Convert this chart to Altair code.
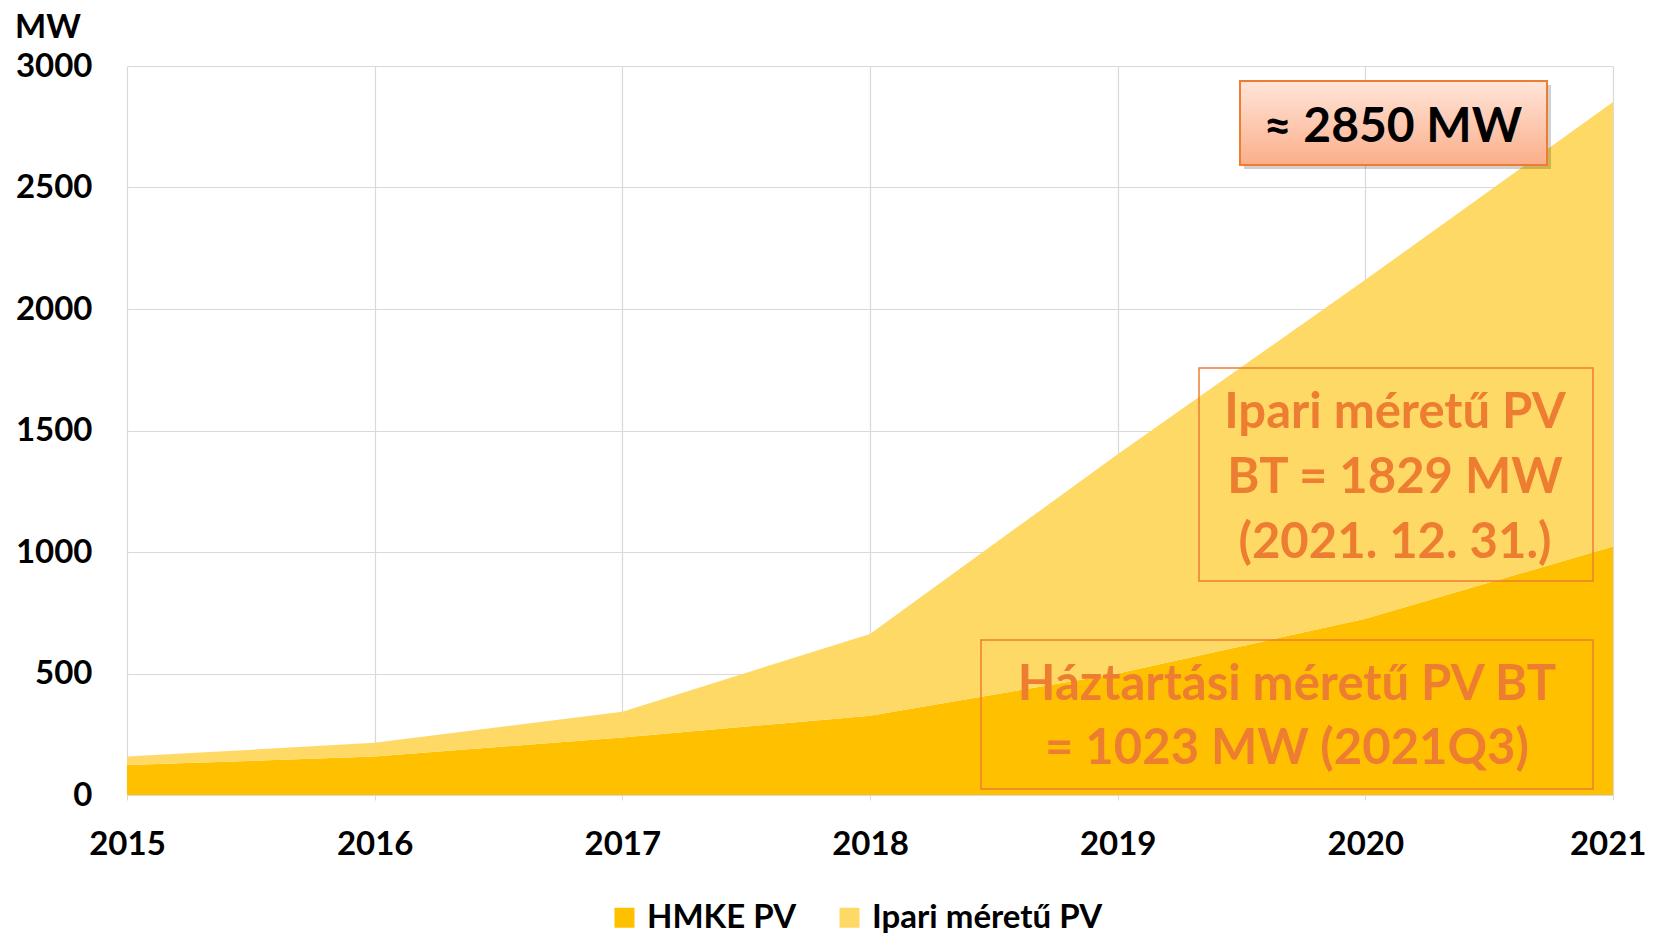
import altair as alt
import pandas as pd

# ---- data ----
years = [2015, 2016, 2017, 2018, 2019, 2020, 2021]
hmke_pv = [123, 158, 237, 326, 500, 725, 1023]
ipari_pv = [35, 57, 106, 337, 902, 1395, 1829]
series_names = ["HMKE PV", "Ipari méretű PV"]
series_colors = ["#FFC000", "#FFD966"]
y_ticks = [0, 500, 1000, 1500, 2000, 2500, 3000]
unit_label = "MW"
total_label = "≈ 2850 MW"
ipari_lines = ["Ipari méretű PV", "BT = 1829 MW", "(2021. 12. 31.)"]
hmke_lines = ["Háztartási méretű PV BT", "= 1023 MW (2021Q3)"]

FONT = "Lato"
ORANGE = "#ED7D31"
W, H = 1486, 729

rows = []
for y, a, b in zip(years, hmke_pv, ipari_pv):
    rows.append({"year": y, "series": series_names[0], "value": a, "ord": 0})
    rows.append({"year": y, "series": series_names[1], "value": b, "ord": 1})
df = pd.DataFrame(rows)

areas = alt.Chart(df).mark_area(interpolate="linear", opacity=1).encode(
    x=alt.X("year:Q", scale=alt.Scale(domain=[2015, 2021], nice=False),
            axis=alt.Axis(values=years, format="d", title=None, grid=True,
                          gridColor="#D9D9D9", gridWidth=1.2, domain=False,
                          ticks=True, tickSize=5, tickColor="#D9D9D9",
                          labelFont=FONT, labelFontSize=33, labelFontWeight="bold",
                          labelColor="#000000", labelPadding=28, labelFlush=False,
                          labelAlign={"condition": {"test": "datum.value == 2021", "value": "right"}, "value": "center"},
                          labelOffset={"condition": {"test": "datum.value == 2021", "value": 33}, "value": 0})),
    y=alt.Y("value:Q", stack="zero", scale=alt.Scale(domain=[0, 3000], nice=False),
            axis=alt.Axis(values=y_ticks, format="d", title=None, grid=True,
                          gridColor="#D9D9D9", gridWidth=1.2, domain=False,
                          ticks=False, labelFont=FONT, labelFontSize=33,
                          labelFontWeight="bold", labelColor="#000000",
                          labelPadding=35)),
    color=alt.Color("series:N",
                    scale=alt.Scale(domain=series_names, range=series_colors),
                    legend=alt.Legend(title=None, orient="none", direction="horizontal",
                                      legendX=481, legendY=835,
                                      symbolType="square", symbolSize=400,
                                      symbolStrokeWidth=0, labelFont=FONT,
                                      labelFontSize=33, labelFontWeight="bold",
                                      labelColor="#000000", labelOffset=6,
                                      labelLimit=600, columnPadding=36)),
    order=alt.Order("ord:Q"),
)

one = pd.DataFrame({"k": [0]})


def text_at(t, x, y, color, size=49, align="center"):
    return alt.Chart(one).mark_text(
        text=t, font=FONT, fontSize=size, fontWeight="bold", color=color,
        align=align, baseline="alphabetic"
    ).encode(x=alt.value(x), y=alt.value(y))


layers = [areas, text_at(unit_label, -112, -28, "#000000", size=33, align="left")]

# box 1 (total)
b1 = dict(x0=1113, x1=1420, y0=15, y1=99)
layers.append(alt.Chart(one).mark_rect(fill="#000000", opacity=0.18).encode(
    x=alt.value(b1["x0"] + 4), x2=alt.value(b1["x1"] + 4),
    y=alt.value(b1["y0"] + 4), y2=alt.value(b1["y1"] + 4)))
layers.append(alt.Chart(one).mark_rect(
    fill=alt.Gradient(gradient="linear",
                      stops=[alt.GradientStop(color="#FFE5D9", offset=0),
                             alt.GradientStop(color="#FBAE8A", offset=1)],
                      x1=0, x2=0, y1=0, y2=1),
    stroke=ORANGE, strokeWidth=2
).encode(x=alt.value(b1["x0"]), x2=alt.value(b1["x1"]),
         y=alt.value(b1["y0"]), y2=alt.value(b1["y1"])))
layers.append(text_at(total_label, 1266, 76, "#000000", size=48))

# box 2 (ipari)
layers.append(alt.Chart(one).mark_rect(fill="transparent", stroke=ORANGE, strokeWidth=1.5).encode(
    x=alt.value(1072), x2=alt.value(1466), y=alt.value(302), y2=alt.value(515)))
for t, yy in zip(ipari_lines, [362, 427, 492]):
    layers.append(text_at(t, 1268, yy, ORANGE))

# box 3 (hmke)
layers.append(alt.Chart(one).mark_rect(fill="transparent", stroke=ORANGE, strokeWidth=1.5).encode(
    x=alt.value(854), x2=alt.value(1466), y=alt.value(574), y2=alt.value(723)))
for t, yy in zip(hmke_lines, [634, 698]):
    layers.append(text_at(t, 1160, yy, ORANGE))

chart = alt.layer(*layers).properties(
    width=W, height=H,
    autosize=alt.AutoSizeParams(type="none"),
    padding={"left": 119, "top": 58, "right": 33, "bottom": 139},
).configure_view(strokeWidth=0)

chart.save("out.html", embed_options={"renderer": "svg", "actions": False})
